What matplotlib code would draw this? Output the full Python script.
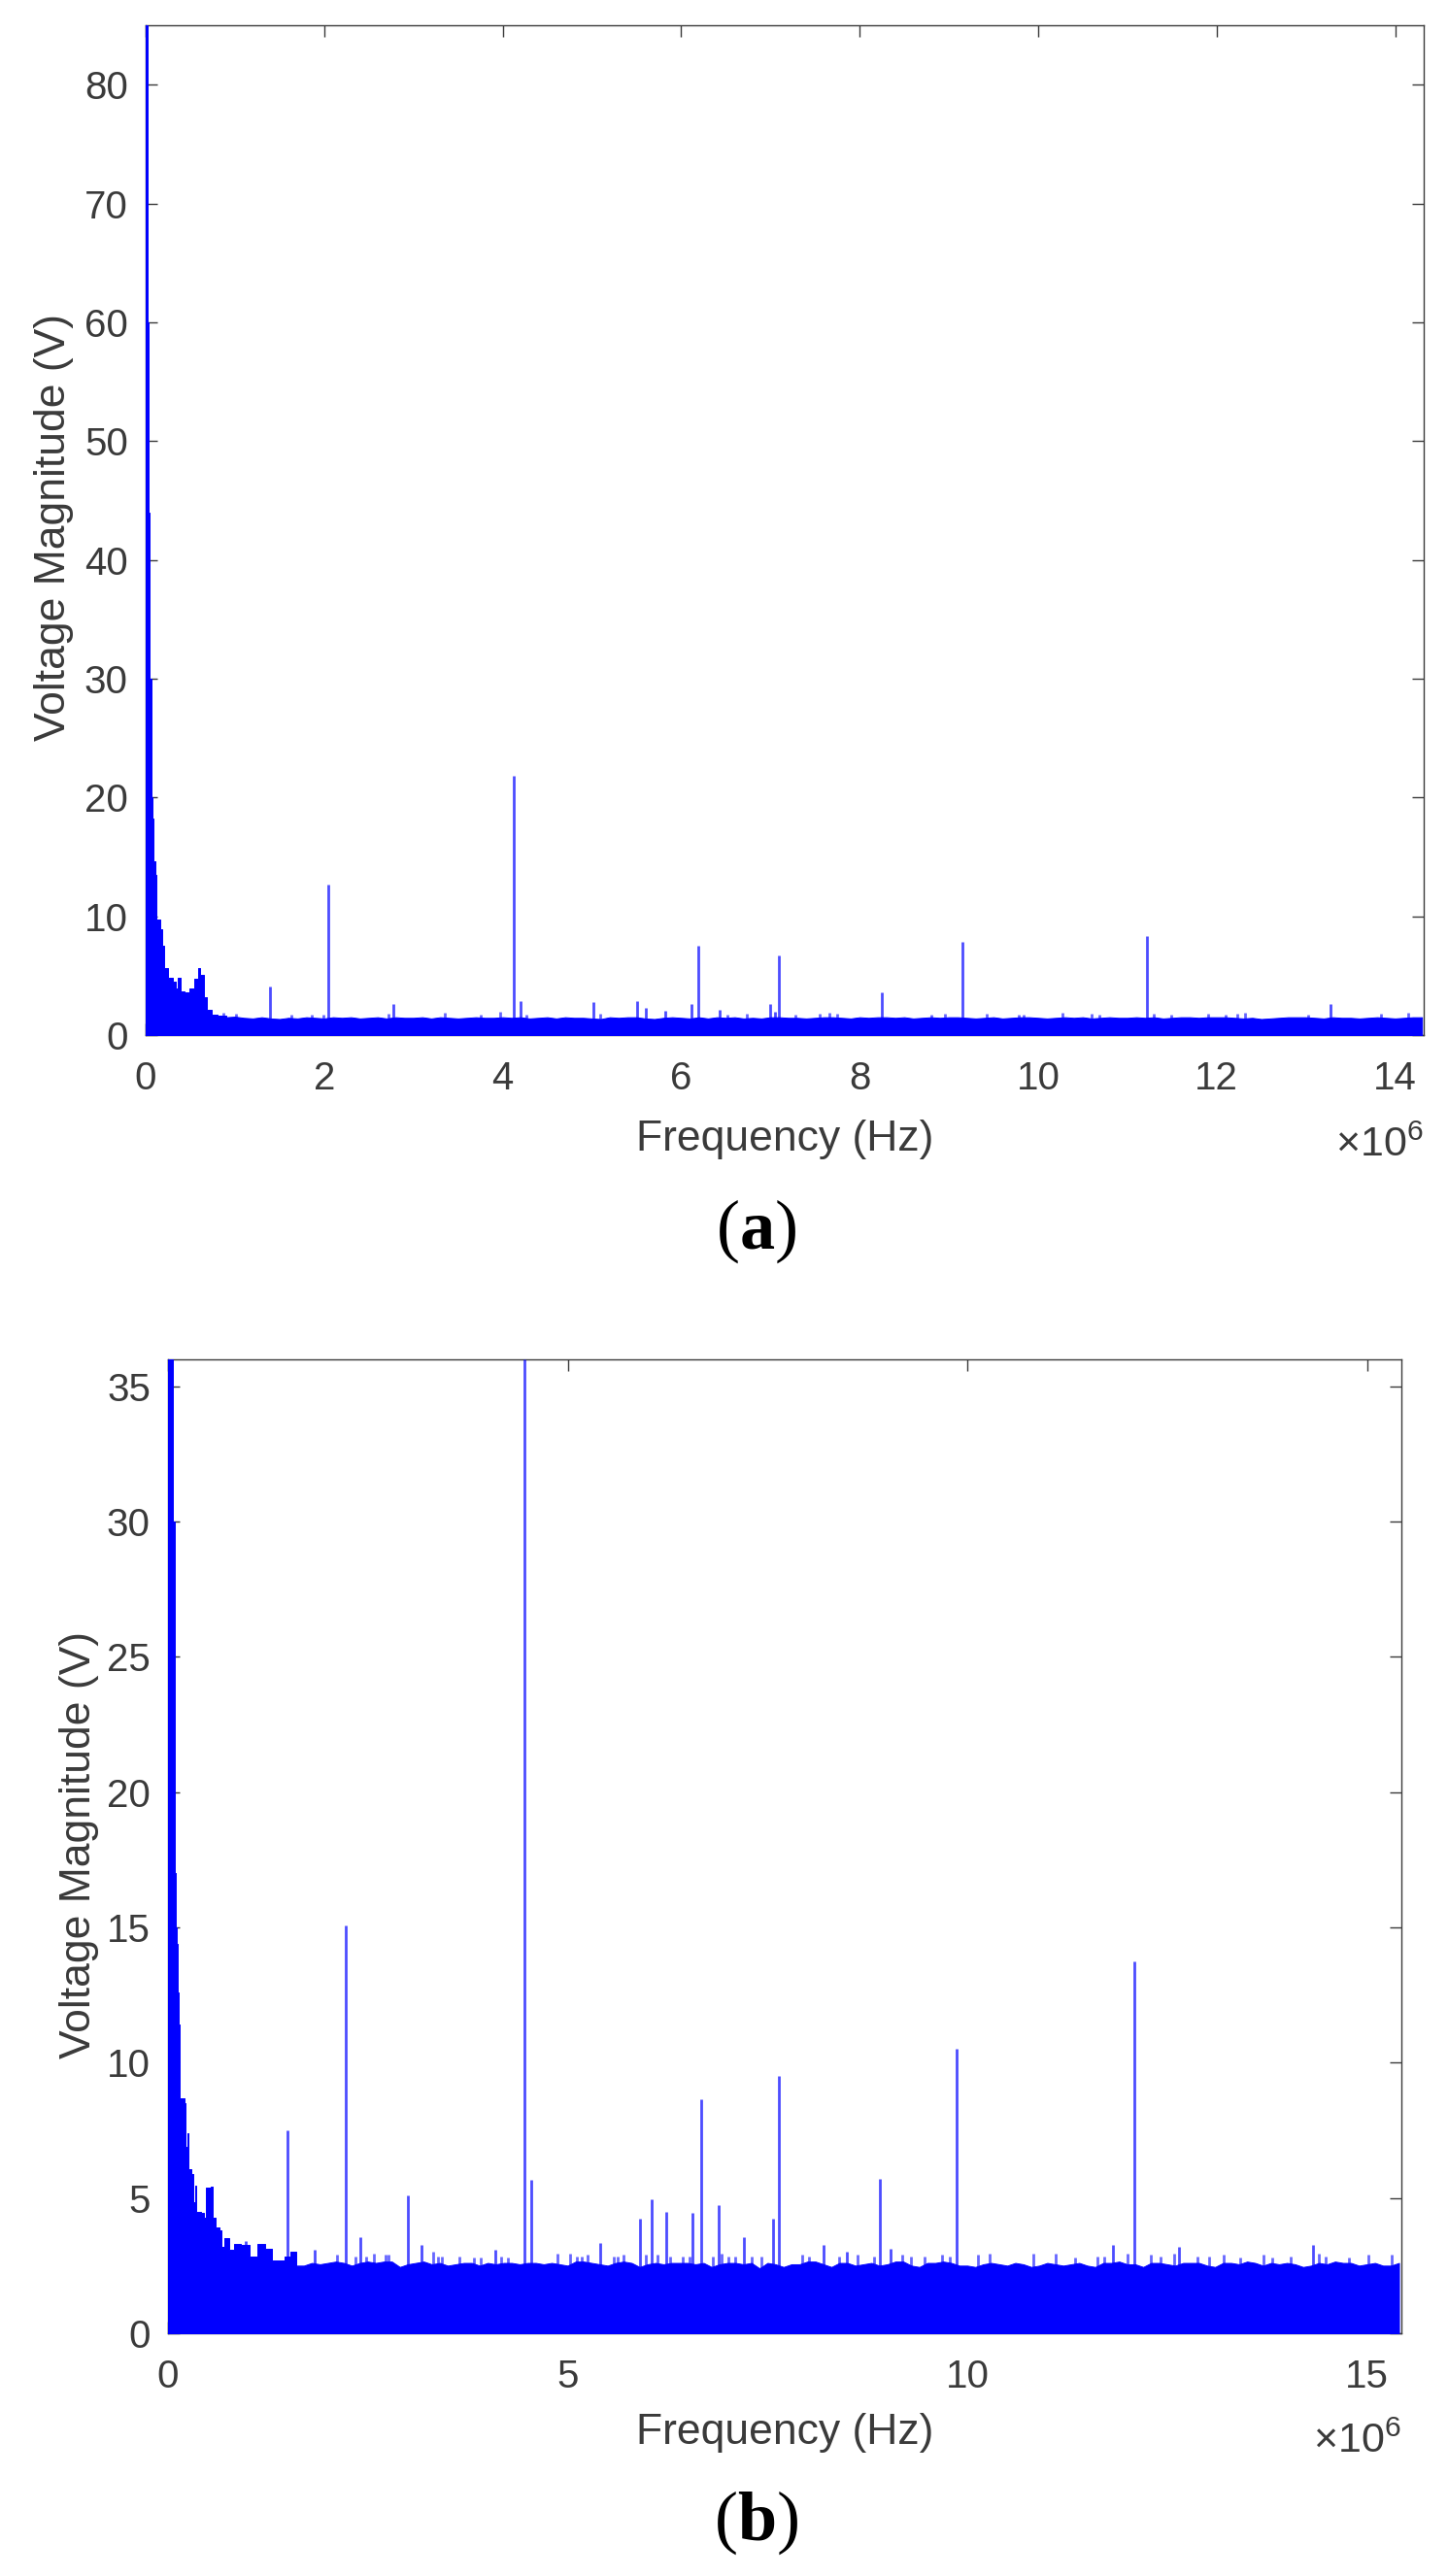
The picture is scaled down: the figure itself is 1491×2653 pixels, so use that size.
import numpy as np
import matplotlib
matplotlib.use("Agg")
import matplotlib.pyplot as plt

plt.rcParams["font.family"] = ["Liberation Sans", "DejaVu Sans"]
plt.rcParams["mathtext.fontset"] = "custom"
plt.rcParams["mathtext.rm"] = "Liberation Sans"
plt.rcParams["mathtext.bf"] = "Liberation Serif:bold"

### Values (frequency in MHz, magnitude in V)

# panel a, decay at low frequency
low_freq_a = [0, .02, .035, .045, .06, .07, .076, .087, .105, .116, .16, .19, .21, .25, .31, .34, .36, .39,
              .43, .485, .54, .587, .61, .65, .685, .74, .81, .9]
low_mag_a = [85, 60, 44, 30, 24, 20, 18.2, 14.6, 13.5, 9.7, 8.9, 7.5, 5.6, 4.8, 4.5, 3.9, 4.8, 3.7,
             3.6, 3.9, 4.7, 5.6, 5.1, 3.2, 2.1, 1.7, 1.6, 1.5]

# panel a, top of the noise floor, one value per 0.1 MHz from 0.9 MHz
floor_mag_a = [1.5, 1.55, 1.45, 1.4, 1.5, 1.4, 1.35, 1.45, 1.4, 1.5, 1.45, 1.4, 1.5, 1.45, 1.5,
               1.4, 1.45, 1.5, 1.4, 1.5, 1.45, 1.45, 1.5, 1.4, 1.5, 1.45, 1.4, 1.45, 1.5, 1.45,
               1.45, 1.5, 1.45, 1.5, 1.4, 1.45, 1.5, 1.4, 1.5, 1.45, 1.45, 1.4, 1.35, 1.5, 1.45,
               1.5, 1.5, 1.4, 1.35, 1.45, 1.5, 1.45, 1.4, 1.5, 1.4, 1.5, 1.45, 1.5, 1.4, 1.45,
               1.4, 1.5, 1.5, 1.45, 1.45, 1.4, 1.45, 1.5, 1.5, 1.45, 1.4, 1.5, 1.45, 1.5, 1.5,
               1.45, 1.5, 1.4, 1.45, 1.5, 1.45, 1.5, 1.5, 1.45, 1.4, 1.45, 1.5, 1.4, 1.45, 1.5,
               1.5, 1.45, 1.4, 1.45, 1.5, 1.45, 1.5, 1.4, 1.45, 1.5, 1.45, 1.45, 1.5, 1.45, 1.5,
               1.4, 1.45, 1.5, 1.5, 1.45, 1.5, 1.5, 1.5, 1.45, 1.4, 1.45, 1.35, 1.4, 1.45, 1.5,
               1.5, 1.5, 1.45, 1.4, 1.5, 1.45, 1.45, 1.4, 1.45, 1.5, 1.45, 1.4, 1.45, 1.5, 1.5]

spike_freq_a = [1.39, 2.05, 2.78, 4.127, 4.2, 5.02, 5.51, 5.6, 5.82, 6.12, 6.19, 6.43, 7.0, 7.05, 7.09,
                8.25, 9.15, 11.22, 13.28]
spike_mag_a = [4.05, 12.7, 2.64, 21.8, 2.85, 2.77, 2.9, 2.26, 2.04, 2.64, 7.48, 2.1, 2.64, 1.96, 6.7,
               3.59, 7.86, 8.35, 2.58]

# panel a, small bumps on top of the floor
bump_freq_a = [.866, 1.01, 1.63, 1.86, 1.99, 2.72, 3.35, 3.75, 3.97, 4.27, 5.09, 6.52, 6.74, 7.28, 7.55, 7.66,
               7.75, 8.8, 8.95, 9.42, 9.78, 9.84, 10.27, 10.6, 10.69, 11.29, 11.49, 11.9, 12.1, 12.23, 12.32,
               13.03, 13.84, 14.15]
bump_mag_a = [1.85, 1.8, 1.7, 1.75, 1.75, 1.8, 1.9, 1.75, 1.95, 1.75, 1.8, 1.75, 1.8, 1.75, 1.8, 1.85,
              1.8, 1.75, 1.8, 1.8, 1.75, 1.75, 1.9, 1.8, 1.75, 1.8, 1.75, 1.8, 1.75, 1.8, 1.85,
              1.75, 1.8, 1.85]

# panel b, decay at low frequency
low_freq_b = [0, .05, .06, .08, .09, .097, .113, .125, .138, .15, .206, .22, .24, .255, .287, .31, .336, .356,
              .41, .45, .474, .538, .563, .59, .644, .67, .71, .77, .83, .915, 1.02, 1.117, 1.21, 1.3, 1.46, 1.53, 1.6]
low_mag_b = [36, 36, 30, 20, 17, 15, 14.4, 12.6, 11.4, 8.7, 8.5, 6.9, 7.4, 6.06, 5.9, 4.86, 5.46, 4.5,
             4.44, 4.27, 5.4, 5.42, 4.27, 3.9, 3.79, 3.2, 3.5, 3.07, 3.3, 3.25, 2.83, 3.3, 3.13, 2.7, 2.83, 3.0, 2.5]

# panel b, top of the noise floor, one value per 0.1 MHz from 1.6 MHz
floor_mag_b = [2.5, 2.5, 2.6, 2.55, 2.6, 2.65, 2.6, 2.5, 2.6, 2.65, 2.6, 2.65, 2.65, 2.45, 2.55,
               2.6, 2.65, 2.55, 2.6, 2.5, 2.55, 2.6, 2.6, 2.5, 2.6, 2.55, 2.6, 2.6, 2.55, 2.6,
               2.6, 2.55, 2.6, 2.55, 2.5, 2.65, 2.65, 2.6, 2.55, 2.5, 2.6, 2.65, 2.6, 2.45, 2.55,
               2.6, 2.55, 2.6, 2.6, 2.6, 2.55, 2.6, 2.45, 2.55, 2.6, 2.6, 2.55, 2.6, 2.4, 2.6,
               2.55, 2.45, 2.55, 2.55, 2.65, 2.65, 2.55, 2.45, 2.6, 2.6, 2.5, 2.55, 2.6, 2.5, 2.55,
               2.65, 2.65, 2.5, 2.45, 2.6, 2.6, 2.65, 2.6, 2.5, 2.5, 2.45, 2.55, 2.6, 2.55, 2.5,
               2.6, 2.55, 2.45, 2.5, 2.6, 2.55, 2.5, 2.55, 2.6, 2.5, 2.45, 2.6, 2.6, 2.65, 2.55,
               2.55, 2.45, 2.6, 2.6, 2.55, 2.5, 2.6, 2.6, 2.6, 2.5, 2.45, 2.6, 2.6, 2.55, 2.65,
               2.6, 2.5, 2.6, 2.55, 2.6, 2.55, 2.45, 2.5, 2.6, 2.55, 2.65, 2.6, 2.6, 2.5, 2.55,
               2.6, 2.5, 2.5, 2.6]

spike_freq_b = [.975, 1.49, 1.83, 2.22, 2.41, 3.0, 3.17, 4.1, 4.455, 4.54, 5.41, 5.905, 6.05, 6.23, 6.56, 6.67,
                6.89, 7.21, 7.57, 7.64, 8.2, 8.49, 8.9, 9.04, 9.87, 11.82, 12.09, 12.65, 14.32]
spike_mag_b = [3.4, 7.5, 3.1, 15.08, 3.55, 5.1, 3.25, 3.1, 36, 5.66, 3.33, 4.23, 4.96, 4.5, 4.44, 8.65,
               4.72, 3.55, 4.23, 9.5, 3.25, 3.03, 5.7, 3.13, 10.5, 3.25, 13.75, 3.19, 3.27]

# panel b, small bumps on top of the floor
bump_freq_b = [2.11, 2.35, 2.48, 2.57, 2.72, 2.76, 3.32, 3.38, 3.43, 3.65, 3.83, 3.91, 4.17, 4.25, 4.87, 5.03,
               5.12, 5.18, 5.25, 5.58, 5.62, 5.70, 5.98, 6.12, 6.28, 6.44, 6.52, 6.81, 6.93, 7.01, 7.09, 7.30,
               7.42, 7.93, 8.02, 8.39, 8.63, 8.83, 9.19, 9.30, 9.47, 9.68, 9.78, 10.13, 10.28, 10.82, 11.11,
               11.35, 11.63, 11.71, 12.0, 12.3, 12.42, 12.59, 12.88, 13.03, 13.21, 13.41, 13.7, 13.82, 14.04,
               14.4, 14.48, 14.77, 15.02, 15.31]
bump_mag_b = [2.9, 2.85, 2.85, 2.95, 2.9, 2.9, 3.0, 2.85, 2.85, 2.85, 2.8, 2.8, 2.85, 2.8, 2.95, 2.95,
              2.85, 2.85, 2.9, 2.85, 2.85, 2.9, 2.9, 2.9, 2.85, 2.85, 2.85, 2.85, 2.95, 2.85, 2.85, 2.85,
              2.85, 2.9, 2.85, 2.85, 2.9, 2.85, 2.9, 2.85, 2.85, 2.9, 2.85, 2.9, 2.95, 2.95, 2.95,
              2.8, 2.85, 2.85, 2.95, 2.9, 2.85, 2.95, 2.85, 2.85, 2.9, 2.8, 2.9, 2.8, 2.85,
              2.95, 2.85, 2.8, 2.9, 2.9]

xticks_a = [0, 2, 4, 6, 8, 10, 12, 14]
yticks_a = [0, 10, 20, 30, 40, 50, 60, 70, 80]
xticks_b = [0, 5, 10, 15]
yticks_b = [0, 5, 10, 15, 20, 25, 30, 35]

W, H = 1491, 2653
BLUE = "#0000ff"
DARK = "#3a3a3a"


def make_axes(fig, left, top, right, bottom):
    return fig.add_axes([left / W, 1 - bottom / H, (right - left) / W, (bottom - top) / H])


def plot_spectrum(ax, low_f, low_m, floor_start, floor_m, spike_f, spike_m, bump_f, bump_m, xticks, yticks, xmax, ymax):
    floor_f = floor_start + 0.1 * np.arange(len(floor_m))

    # jagged decay, then the floor
    ax.fill_between(np.array(low_f) * 1e6, low_m, 0, step="post", color=BLUE, lw=0.7, zorder=3, clip_on=False)
    ax.fill_between(floor_f * 1e6, floor_m, 0, color=BLUE, lw=0.7, zorder=3, clip_on=False)
    ax.vlines(np.array(bump_f) * 1e6, 0, bump_m, color=BLUE, lw=2.0, alpha=0.6, zorder=3)
    ax.vlines(np.array(spike_f) * 1e6, 0, spike_m, color=BLUE, lw=2.0, alpha=0.7, zorder=3)

    ax.set_xlim(0, xmax * 1e6)
    ax.set_ylim(0, ymax)
    ax.set_xticks(np.array(xticks) * 1e6)
    ax.set_xticklabels([str(t) for t in xticks])
    ax.set_yticks(yticks)
    ax.tick_params(direction="in", top=True, right=True, length=8.5, width=1, color=DARK,
                   labelcolor=DARK, labelsize=29)
    ax.tick_params(axis="x", pad=19)
    ax.tick_params(axis="y", pad=13)
    for side in ax.spines.values():
        side.set_linewidth(1)
        side.set_edgecolor(DARK)


fig = plt.figure(figsize=(W / 100, H / 100), dpi=100, facecolor="white")

ax_a = make_axes(fig, 150, 26, 1466, 1066)
plot_spectrum(ax_a, low_freq_a, low_mag_a, 0.9, floor_mag_a, spike_freq_a, spike_mag_a, bump_freq_a, bump_mag_a,
              xticks_a, yticks_a, 14.32, 85)

ax_b = make_axes(fig, 173, 1400, 1443, 2403)
plot_spectrum(ax_b, low_freq_b, low_mag_b, 1.6, floor_mag_b, spike_freq_b, spike_mag_b, bump_freq_b, bump_mag_b,
              xticks_b, yticks_b, 15.43, 36)

fs = 32
fig.text(808 / W, 1 - 1173 / H, "Frequency (Hz)", ha="center", va="center", fontsize=fs, color=DARK)
fig.text(808 / W, 1 - 2505 / H, "Frequency (Hz)", ha="center", va="center", fontsize=fs, color=DARK)
fig.text(56 / W, 1 - 543 / H, "Voltage Magnitude (V)", rotation=90, ha="center", va="center", fontsize=fs, color=DARK)
fig.text(82 / W, 1 - 1900 / H, "Voltage Magnitude (V)", rotation=90, ha="center", va="center", fontsize=fs, color=DARK)

fig.text(1466 / W, 1 - 1180 / H, r"$\mathrm{\times 10^{6}}$", ha="right", va="center", fontsize=31, color=DARK)
fig.text(1443 / W, 1 - 2515 / H, r"$\mathrm{\times 10^{6}}$", ha="right", va="center", fontsize=31, color=DARK)

fig.text(779 / W, 1 - 1268 / H, r"($\mathbf{a}$)", ha="center", va="center", fontsize=52,
         family="Liberation Serif", color="black")
fig.text(779 / W, 1 - 2598 / H, r"($\mathbf{b}$)", ha="center", va="center", fontsize=52,
         family="Liberation Serif", color="black")

fig.savefig("out.png", dpi=100)
